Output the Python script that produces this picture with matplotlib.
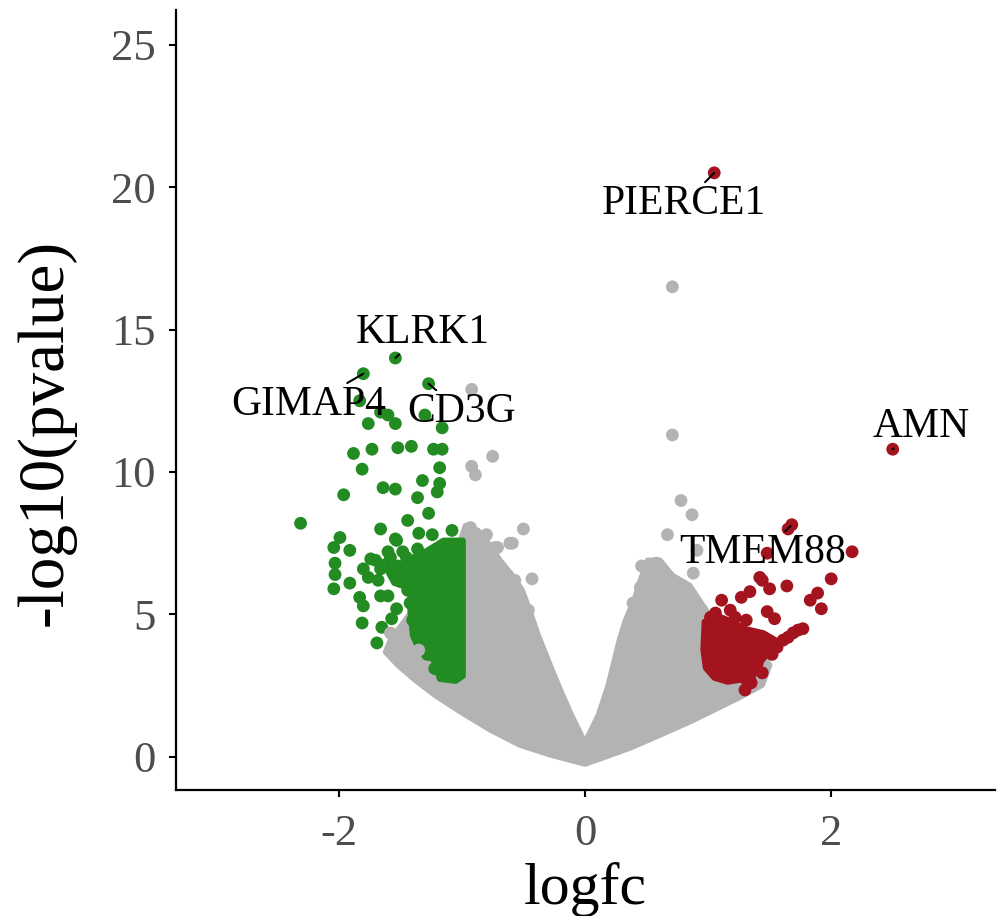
import numpy as np
import matplotlib
matplotlib.use("Agg")
import matplotlib.pyplot as plt

# colours
GREY = "#B3B3B3"
GREEN = "#228B22"
RED = "#A3141E"

# envelope of the dense non-significant cloud (logfc, -log10 p)
gray_cloud_x = [0.00, -0.28, -0.53, -0.77, -1.01, -1.22, -1.38, -1.52, -1.62, -1.58, -1.46, -1.34,
                -1.18, -1.01, -0.97, -0.87, -0.77, -0.69, -0.59, -0.51, -0.45, -0.38, -0.30, -0.20,
                -0.11, 0.00, 0.11, 0.19, 0.24, 0.28, 0.33, 0.40, 0.45, 0.51, 0.61, 0.71, 0.85, 0.93,
                1.01, 1.18, 1.42, 1.50, 1.44, 1.26, 1.05, 0.85, 0.61, 0.37, 0.12]
gray_cloud_y = [-0.25, 0.07, 0.42, 0.95, 1.58, 2.17, 2.70, 3.22, 3.68, 4.10, 4.80, 5.50,
                6.55, 7.60, 8.12, 7.95, 7.42, 6.90, 6.37, 5.85, 5.15, 4.27, 3.40, 2.35,
                1.47, 0.50, 1.47, 2.52, 3.40, 4.10, 4.80, 5.50, 6.20, 6.90, 6.90, 6.37, 6.02, 5.50,
                4.97, 4.45, 3.75, 3.22, 2.52, 2.10, 1.65, 1.23, 0.77, 0.32, -0.07]

# scattered non-significant genes
gray_x = [0.71, 0.71, -0.92, -0.75, -0.92, -0.89, 0.78, 0.87, 0.67, -0.50, -0.59, -0.73,
          -0.80, -0.92, -0.83, 0.46, 0.58, 0.67, 0.83, 0.88, 0.91, 0.75, 0.80, 0.95,
          0.45, 0.39, -0.93, -0.71, -0.61, -0.57, -0.43, -0.46, -0.63, -0.82, -0.71]
gray_y = [16.5, 11.3, 12.9, 10.55, 10.2, 9.9, 9.0, 8.5, 7.8, 8.0, 7.5, 7.35,
          7.8, 7.9, 7.15, 6.7, 6.8, 6.15, 5.85, 6.45, 7.25, 5.4, 5.05, 5.15,
          5.95, 5.4, 8.05, 7.35, 7.5, 6.2, 6.25, 5.15, 5.75, 6.45, 6.25]
# grey points lying over the green block
gray_top_x = [-1.58, -1.35]
gray_top_y = [4.35, 3.75]

# down-regulated: dense block envelope + individual genes
down_block_x = [-0.99, -0.99, -1.05, -1.18, -1.23, -1.34, -1.40, -1.42, -1.42, -1.55, -1.60,
                -1.45, -1.30, -1.15]
down_block_y = [7.60, 2.84, 2.66, 2.73, 3.40, 3.68, 4.27, 5.15, 5.90, 6.10, 6.50,
                6.90, 7.20, 7.60]
down_x = [-1.54, -1.80, -1.27, -1.83, -1.66, -1.60, -1.54, -1.76, -1.30, -1.16, -1.88, -1.73,
          -1.52, -1.41, -1.23, -1.16, -1.81, -1.18, -1.32, -1.18, -1.20, -1.36, -1.64, -1.54,
          -1.96, -1.27, -2.31, -1.44, -1.66, -1.99, -1.54, -1.35, -1.24, -1.08, -2.04, -1.91,
          -1.53, -1.60, -1.48, -1.74, -1.80, -1.66, -2.03, -2.03, -2.04, -1.91, -1.83, -1.80,
          -1.66, -1.60, -1.44, -1.53, -1.81, -1.65, -1.69, -1.57,
          -1.70, -1.62, -1.52, -1.45, -1.76, -1.68, -1.42, -1.40, -1.36, -1.28, -1.22, -1.47,
          -1.58, -1.36]
down_y = [14.0, 13.45, 13.1, 12.5, 12.1, 12.0, 11.7, 11.7, 12.0, 11.55, 10.65, 10.8,
          10.85, 10.9, 10.8, 10.8, 10.1, 10.15, 9.7, 9.6, 9.3, 9.1, 9.45, 9.4,
          9.2, 8.55, 8.2, 8.3, 8.0, 7.7, 7.65, 7.85, 7.8, 7.95, 7.35, 7.25,
          7.6, 7.2, 7.2, 6.95, 6.6, 6.6, 6.8, 6.4, 5.9, 6.1, 5.6, 5.3,
          5.65, 5.65, 5.85, 5.2, 4.7, 4.55, 4.0, 4.85,
          6.9, 6.75, 6.7, 7.0, 6.3, 6.2, 5.4, 4.8, 4.2, 3.6, 3.1, 6.45,
          7.0, 7.3]

# up-regulated
up_block_x = [0.97, 1.08, 1.20, 1.30, 1.45, 1.55, 1.50, 1.42, 1.38, 1.34, 1.26, 1.16,
              1.05, 0.98, 0.96]
up_block_y = [4.75, 4.95, 4.75, 4.50, 4.35, 4.10, 3.70, 3.30, 2.95, 2.55, 2.70, 2.63,
              2.77, 3.12, 3.75]
up_x = [1.05, 2.50, 1.68, 1.65, 2.17, 1.48, 2.00, 1.64, 1.42, 1.50, 1.44, 1.11, 1.27, 1.34,
        1.83, 1.89, 1.92, 1.48, 1.54, 1.22, 1.31, 1.36, 1.77, 1.69, 1.61, 1.48, 1.35, 1.44, 1.30,
        1.18, 1.02, 1.06, 1.56, 1.73, 1.65, 1.52, 1.40]
up_y = [20.5, 10.8, 8.15, 8.0, 7.2, 7.15, 6.25, 6.0, 6.3, 5.9, 6.2, 5.5, 5.6, 5.8,
        5.5, 5.75, 5.2, 5.1, 4.85, 4.9, 4.8, 4.3, 4.5, 4.35, 4.1, 4.1, 2.6, 2.95, 2.35,
        5.15, 4.9, 5.05, 3.85, 4.45, 4.2, 3.6, 3.3]

# labelled genes: name, point, label centre
genes = ["PIERCE1", "KLRK1", "GIMAP4", "CD3G", "AMN", "TMEM88"]
gene_x = [1.05, -1.54, -1.80, -1.27, 2.50, 1.67]
gene_y = [20.5, 14.0, 13.45, 13.1, 10.8, 8.1]
label_x = [0.80, -1.32, -2.24, -1.00, 2.73, 1.44]
label_y = [19.4, 14.9, 12.35, 12.1, 11.6, 7.15]

plt.rcParams["font.family"] = "Liberation Serif"
plt.rcParams["axes.unicode_minus"] = False

fig = plt.figure(figsize=(10.07, 9.16), dpi=100)
ax = fig.add_axes([0.175, 0.1376, 0.813, 0.851])

dot = 85
ax.fill(gray_cloud_x, gray_cloud_y, color=GREY, lw=4, joinstyle="round", zorder=1)
ax.scatter(gray_x, gray_y, s=dot, c=GREY, edgecolors="none", zorder=2)
ax.fill(down_block_x, down_block_y, color=GREEN, lw=4, joinstyle="round", zorder=3)
ax.scatter(down_x, down_y, s=dot, c=GREEN, edgecolors="none", zorder=3)
ax.fill(up_block_x, up_block_y, color=RED, lw=4, joinstyle="round", zorder=3)
ax.scatter(up_x, up_y, s=dot, c=RED, edgecolors="none", zorder=3)
ax.scatter(gray_top_x, gray_top_y, s=dot, c=GREY, edgecolors="none", zorder=4)

for name, gx, gy, tx, ty in zip(genes, gene_x, gene_y, label_x, label_y):
    ax.annotate(name, xy=(gx, gy), xytext=(tx, ty), ha="center", va="center",
                fontsize=30, color="black", zorder=6,
                arrowprops=dict(arrowstyle="-", color="black", lw=1.5,
                                shrinkA=0, shrinkB=0))

ax.set_xlim(-3.32, 3.33)
ax.set_ylim(-1.16, 26.2)
ax.set_xticks([-2, 0, 2])
ax.set_yticks([0, 5, 10, 15, 20, 25])
ax.tick_params(labelsize=32, labelcolor="#4D4D4D", length=5, width=1.5, direction="out")
ax.tick_params(axis="x", pad=12)
ax.tick_params(axis="y", pad=10)
for side in ["top", "right"]:
    ax.spines[side].set_visible(False)
for side in ["left", "bottom"]:
    ax.spines[side].set_linewidth(1.6)

ax.set_xlabel("logfc", fontsize=43, labelpad=6)
ax.set_ylabel("-log10(pvalue)", fontsize=47)
ax.yaxis.set_label_coords(-0.123, 0.459)

fig.savefig("out.png", dpi=100)
